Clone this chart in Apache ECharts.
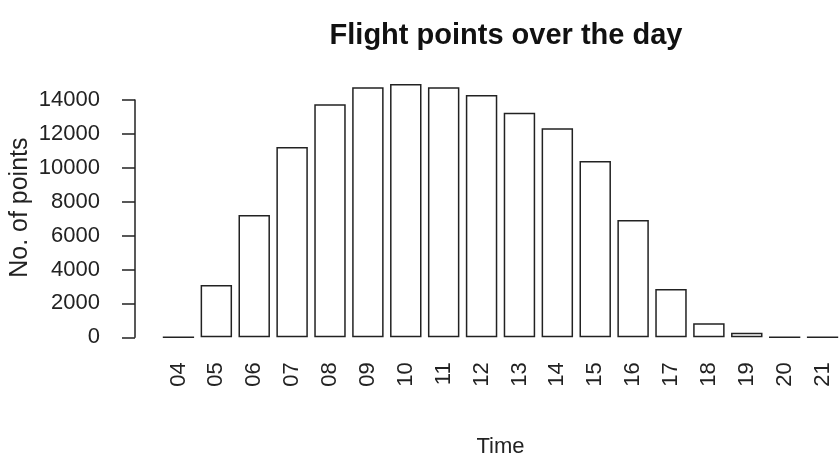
<!DOCTYPE html>
<html>
<head>
<meta charset="utf-8">
<script src="https://cdn.jsdelivr.net/npm/echarts@6/dist/echarts.min.js"></script>
<style>
html,body{margin:0;padding:0;background:#fff;}
#chart{width:839px;height:465px;}
</style>
</head>
<body>
<div id="chart"></div>
<script>
const hours = ['04','05','06','07','08','09','10','11','12','13','14','15','16','17','18','19','20','21'];
const points = [10, 3090, 7215, 11230, 13750, 14750, 14945, 14750, 14295, 13250, 12330, 10400, 6920, 2850, 830, 270, 10, 10];
const yTicks = { min: 0, max: 14000, interval: 2000 };
const titleText = 'Flight points over the day';
const xName = 'Time';
const yName = 'No. of points';

const FONT = '"Liberation Sans", Arial, sans-serif';
const chart = echarts.init(document.getElementById('chart'), null, { renderer: 'canvas' });
chart.setOption({
  animation: false,
  backgroundColor: '#ffffff',
  title: {
    text: titleText,
    left: 501,
    top: 16,
    textAlign: 'center',
    textStyle: { fontFamily: FONT, fontWeight: 'bold', fontSize: 29, color: '#111' }
  },
  grid: { left: 159.5, width: 682, top: 100, bottom: 127.7, containLabel: false, outerBoundsMode: 'none' },
  xAxis: {
    type: 'category',
    data: hours,
    axisLine: { show: false },
    axisTick: { show: false },
    axisLabel: { rotate: 90, margin: 25, fontFamily: FONT, fontSize: 22, color: '#222' },
    name: xName,
    nameLocation: 'middle',
    nameGap: 99,
    nameMoveOverlap: false,
    nameTextStyle: { fontFamily: FONT, fontSize: 22, color: '#222' }
  },
  yAxis: {
    type: 'value',
    min: yTicks.min,
    max: yTicks.max,
    interval: yTicks.interval,
    offset: 24.5,
    splitLine: { show: false },
    axisLine: { show: true, lineStyle: { color: '#222', width: 1.5 } },
    axisTick: { show: true, length: 13, lineStyle: { color: '#222', width: 1.5 } },
    axisLabel: { margin: 35, fontFamily: FONT, fontSize: 22, color: '#222', formatter: v => String(v) },
    name: yName,
    nameLocation: 'middle',
    nameRotate: 90,
    nameGap: 102,
    nameMoveOverlap: false,
    nameTextStyle: { fontFamily: FONT, fontSize: 25, color: '#222', padding: [0, 0, 0, 22] }
  },
  series: [{
    type: 'bar',
    data: points,
    clip: false,
    barCategoryGap: '17%',
    itemStyle: { color: '#ffffff', borderColor: '#222', borderWidth: 1.5 }
  }]
});
</script>
</body>
</html>
